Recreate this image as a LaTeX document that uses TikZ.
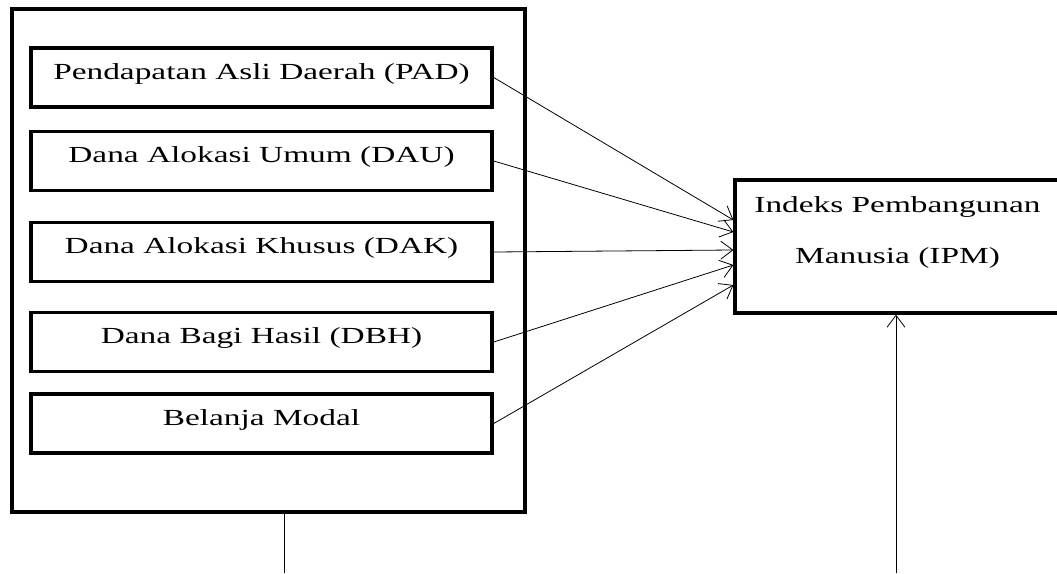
\documentclass[tikz,border=0pt]{standalone}
\usepackage{fontspec}
\setmainfont{Liberation Serif}[FakeStretch=1.45]
\usetikzlibrary{arrows.meta}

\tikzset{
  varbox/.style={draw, line width=3.5pt, minimum width=461pt, minimum height=59pt, inner sep=0pt,
    text height=16pt, text depth=13pt},
  outerbox/.style={draw, line width=3.5pt, minimum width=513pt, minimum height=503pt},
  ipmbox/.style={draw, line width=3.2pt, minimum width=325pt, minimum height=133pt},
  link/.style={line width=0.8pt, -{Straight Barb[length=12pt,width=18pt,line width=0.8pt]}}
}

\begin{document}
\begin{tikzpicture}[x=1pt, y=-1pt, font=\fontsize{23}{27}\selectfont]
    \useasboundingbox (0,0) rectangle (1057,573);

    % Group box holding the five variables
    \node[outerbox] (group) at (268.5,260.5) {};

    % Independent variables
    \node[varbox] (pad) at (261.5,77.5) {Pendapatan Asli Daerah (PAD)};
    \node[varbox] (dau) at (261.5,161) {Dana Alokasi Umum (DAU)};
    \node[varbox] (dak) at (261.5,252) {Dana Alokasi Khusus (DAK)};
    \node[varbox] (dbh) at (261.5,342) {Dana Bagi Hasil (DBH)};
    \node[varbox] (bm)  at (261.5,423.5) {Belanja Modal};

    % Dependent variable
    \node[ipmbox] (ipm) at (897.5,246.5) {};
    \node[align=center] (ipmtext) at (897.5,232.5) {Indeks Pembangunan\\[24pt]Manusia (IPM)};

    % Arrows from each variable to IPM
    \draw[link] (pad.east) -- ([yshift=26.5pt]ipm.west);
    \draw[link] (dau.east) -- ([yshift=14.5pt]ipm.west);
    \draw[link] (dak.east) -- ([yshift=-3.5pt]ipm.west);
    \draw[link] (dbh.east) -- ([yshift=-18.5pt]ipm.west);
    \draw[link] (bm.east) -- ([yshift=-38.5pt]ipm.west);

    % Lines running off the bottom edge
    \coordinate (leftend) at (284,573);
    \coordinate (rightend) at (896,573);
    \draw[line width=0.8pt] (group.south -| leftend) -- (leftend);
    \draw[link] (rightend) -- (ipm.south -| rightend);
\end{tikzpicture}
\end{document}
